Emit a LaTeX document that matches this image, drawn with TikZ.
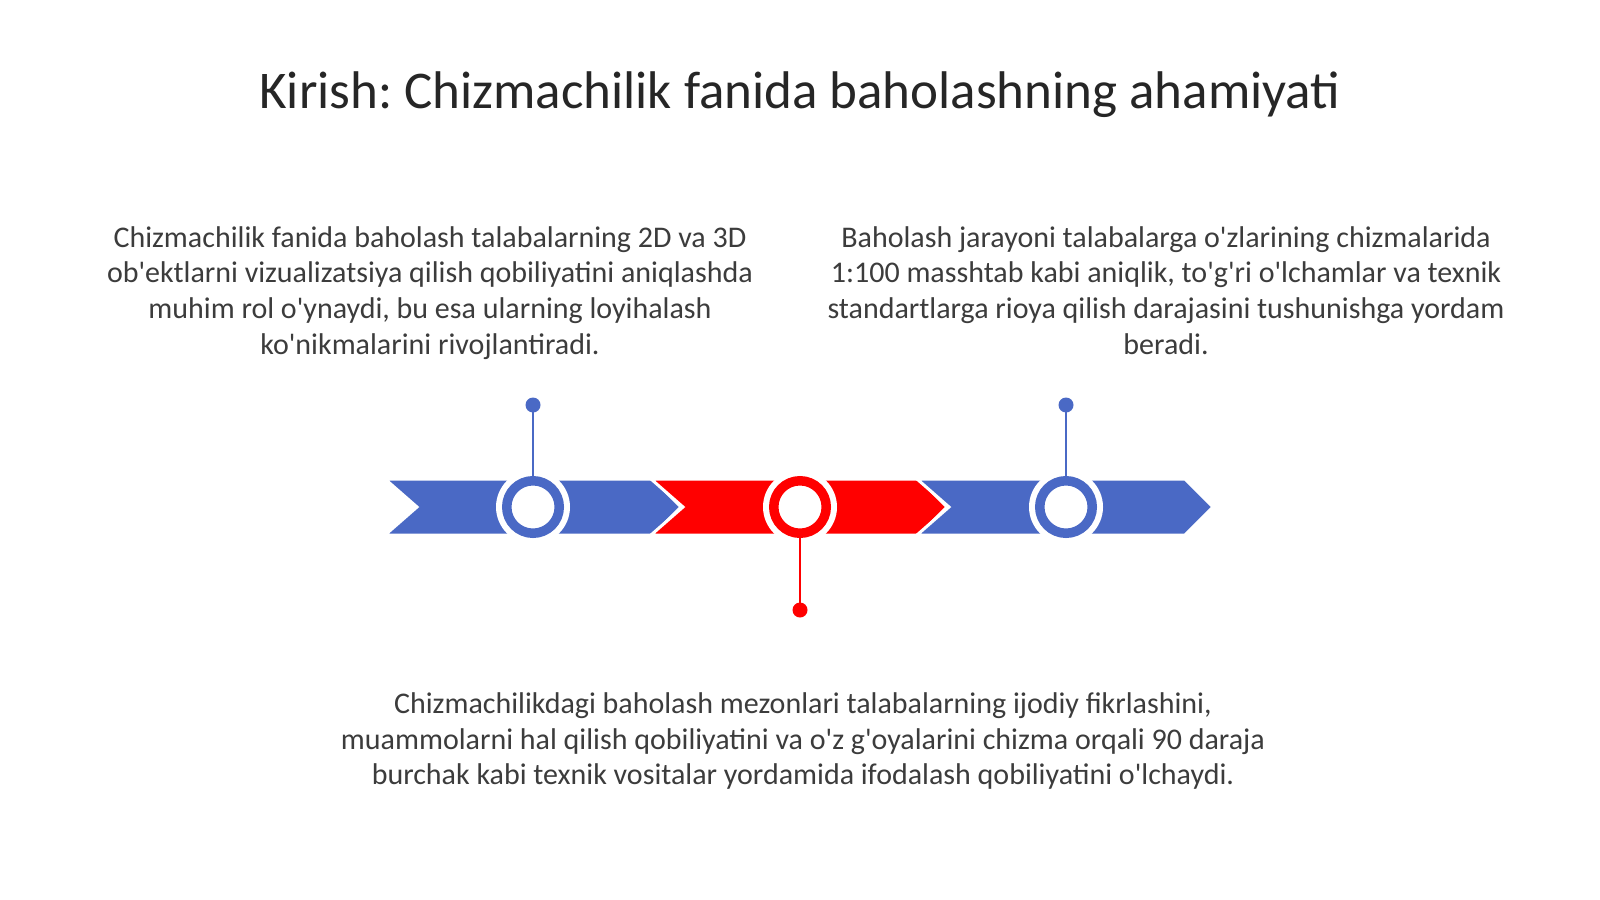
\documentclass[tikz,border=0pt]{standalone}
\usepackage{fontspec}
\setmainfont{Carlito}[Ligatures=TeXOff]
\frenchspacing
\definecolor{tblue}{RGB}{74,105,197}
\definecolor{tred}{RGB}{255,0,0}
\definecolor{ttitle}{RGB}{38,38,38}
\definecolor{tbody}{RGB}{60,60,60}
\tikzset{
  titletext/.style={font=\fontsize{53}{64}\selectfont, text=ttitle, inner sep=0pt, anchor=base},
  bodytext/.style={font=\fontsize{30}{36}\selectfont, text=tbody, inner sep=0pt, anchor=base},
  chev/.style={draw=white, line width=3pt, line join=miter},
  halo/.style={circle, fill=white, minimum size=74pt, inner sep=0pt},
  ringnode/.style={circle, draw=#1, line width=9.5pt, fill=white, minimum size=52.5pt, inner sep=0pt},
  stem/.style={draw=#1, line width=2.6pt},
  dotnode/.style={circle, fill=#1, minimum size=15pt, inner sep=0pt},
}
\begin{document}
\begin{tikzpicture}[x=1pt,y=-1pt]
\useasboundingbox (0,0) rectangle (1600,899);
\fill[white] (0,0) rectangle (1600,899);

% title
\node[titletext] (title) at (800,108) {Kirish: Chizmachilik fanida baholashning ahamiyati};

% left paragraph
\node[bodytext] (a1) at (430,247) {Chizmachilik fanida baholash talabalarning 2D va 3D};
\node[bodytext] (a2) at (430,282.7) {ob'ektlarni vizualizatsiya qilish qobiliyatini aniqlashda};
\node[bodytext] (a3) at (430,318.4) {muhim rol o'ynaydi, bu esa ularning loyihalash};
\node[bodytext] (a4) at (430,354.1) {ko'nikmalarini rivojlantiradi.};

% right paragraph
\node[bodytext] (b1) at (1166,247) {Baholash jarayoni talabalarga o'zlarining chizmalarida};
\node[bodytext] (b2) at (1166,282.7) {1:100 masshtab kabi aniqlik, to'g'ri o'lchamlar va texnik};
\node[bodytext] (b3) at (1166,318.4) {standartlarga rioya qilish darajasini tushunishga yordam};
\node[bodytext] (b4) at (1166,354.1) {beradi.};

% bottom paragraph
\node[bodytext] (c1) at (803,713.5) {Chizmachilikdagi baholash mezonlari talabalarning ijodiy fikrlashini,};
\node[bodytext] (c2) at (803,749.2) {muammolarni hal qilish qobiliyatini va o'z g'oyalarini chizma orqali 90 daraja};
\node[bodytext] (c3) at (803,784.9) {burchak kabi texnik vositalar yordamida ifodalash qobiliyatini o'lchaydi.};

% chevrons
\foreach \k/\c in {0/tblue,1/tred,2/tblue}{
  \pgfmathsetmacro{\xa}{385+266*\k}
  \path[chev, fill=\c] (\xa,479) -- (\xa+268,479) -- (\xa+296,507) -- (\xa+268,535)
     -- (\xa,535) -- (\xa+32,507) -- cycle;
}

% milestones
\node[halo] (h1) at (533,507) {};
\node[halo] (h2) at (800,507) {};
\node[halo] (h3) at (1066,507) {};
\node[ringnode=tblue] (r1) at (533,507) {};
\node[ringnode=tred] (r2) at (800,507) {};
\node[ringnode=tblue] (r3) at (1066,507) {};

\node[dotnode=tblue] (d1) at (533,405) {};
\node[dotnode=tred] (d2) at (800,610) {};
\node[dotnode=tblue] (d3) at (1066,405) {};

\draw[stem=tblue] (r1.north) -- (d1.center);
\draw[stem=tred] (r2.south) -- (d2.center);
\draw[stem=tblue] (r3.north) -- (d3.center);
\end{tikzpicture}
\end{document}
